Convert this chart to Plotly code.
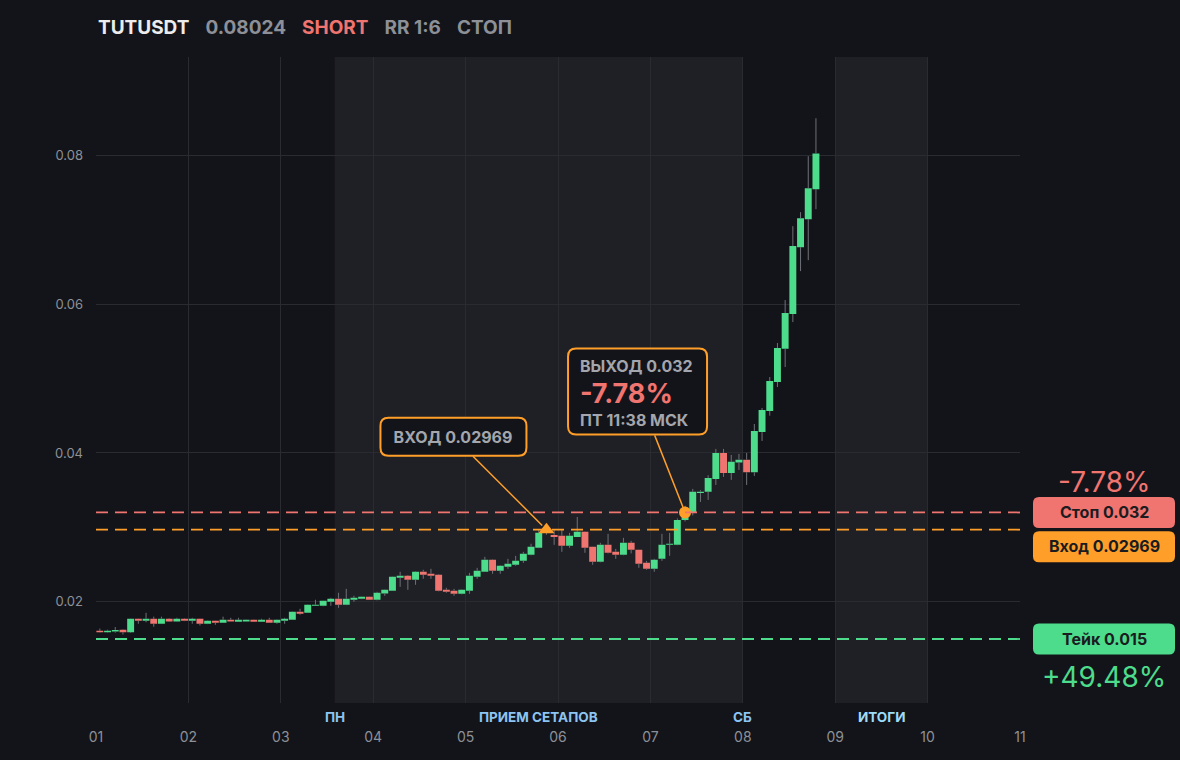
import pandas as pd
import plotly.graph_objects as go

# 2h candles, TUTUSDT, 1-8 March
opens = [0.01610, 0.01590, 0.01600, 0.01624, 0.01590, 0.01772, 0.01745, 0.01772, 0.01705, 0.01772,
         0.01736, 0.01772, 0.01745, 0.01772, 0.01705, 0.01745, 0.01718, 0.01758, 0.01732, 0.01736,
         0.01758, 0.01732, 0.01758, 0.01718, 0.01745, 0.01758, 0.01866, 0.01852, 0.01946, 0.01946,
         0.02000, 0.02040, 0.01960, 0.02027, 0.02040, 0.02067, 0.02027, 0.02112, 0.02148, 0.02322,
         0.02349, 0.02295, 0.02403, 0.02376, 0.02362, 0.02161, 0.02148, 0.02107, 0.02148, 0.02336,
         0.02403, 0.02564, 0.02416, 0.02470, 0.02497, 0.02550, 0.02631, 0.02725, 0.02926, 0.02899,
         0.02886, 0.02752, 0.02872, 0.02940, 0.02738, 0.02537, 0.02765, 0.02671, 0.02631, 0.02792,
         0.02698, 0.02523, 0.02443, 0.02577, 0.02765, 0.02765, 0.03100, 0.03195, 0.03460, 0.03477,
         0.03650, 0.04000, 0.03730, 0.03870, 0.03910, 0.03740, 0.04280, 0.04564, 0.04953, 0.05400,
         0.05866, 0.06765, 0.07141, 0.07544]
highs = [0.01640, 0.01625, 0.01660, 0.01630, 0.01775, 0.01775, 0.01852, 0.01800, 0.01800, 0.01780,
         0.01785, 0.01778, 0.01785, 0.01775, 0.01750, 0.01748, 0.01800, 0.01785, 0.01785, 0.01762,
         0.01762, 0.01772, 0.01785, 0.01762, 0.01785, 0.01870, 0.01906, 0.01965, 0.02027, 0.02015,
         0.02054, 0.02121, 0.02174, 0.02081, 0.02070, 0.02070, 0.02134, 0.02165, 0.02340, 0.02403,
         0.02360, 0.02410, 0.02430, 0.02443, 0.02370, 0.02188, 0.02174, 0.02165, 0.02389, 0.02456,
         0.02604, 0.02570, 0.02490, 0.02577, 0.02617, 0.02671, 0.02780, 0.02966, 0.03000, 0.02966,
         0.02966, 0.02926, 0.03140, 0.02945, 0.02740, 0.02792, 0.02913, 0.02711, 0.02859, 0.02819,
         0.02700, 0.02550, 0.02577, 0.02913, 0.02926, 0.03120, 0.03290, 0.03517, 0.03500, 0.03700,
         0.04054, 0.04054, 0.03973, 0.03987, 0.04000, 0.04389, 0.04604, 0.05020, 0.05477, 0.06054,
         0.07047, 0.07235, 0.07987, 0.08497]
lows = [0.01585, 0.01585, 0.01585, 0.01560, 0.01580, 0.01705, 0.01725, 0.01665, 0.01700, 0.01730,
        0.01730, 0.01740, 0.01705, 0.01682, 0.01700, 0.01691, 0.01715, 0.01735, 0.01730, 0.01733,
        0.01730, 0.01730, 0.01715, 0.01705, 0.01705, 0.01755, 0.01826, 0.01850, 0.01944, 0.01940,
        0.01946, 0.01919, 0.01955, 0.02000, 0.02035, 0.02027, 0.02020, 0.02081, 0.02145, 0.02201,
        0.02161, 0.02228, 0.02309, 0.02309, 0.02140, 0.02121, 0.02081, 0.02100, 0.02107, 0.02309,
        0.02400, 0.02376, 0.02376, 0.02443, 0.02483, 0.02523, 0.02625, 0.02720, 0.02900, 0.02765,
        0.02671, 0.02725, 0.02870, 0.02658, 0.02497, 0.02530, 0.02650, 0.02577, 0.02625, 0.02650,
        0.02456, 0.02430, 0.02403, 0.02550, 0.02617, 0.02760, 0.03080, 0.03160, 0.03342, 0.03369,
        0.03570, 0.03678, 0.03638, 0.03772, 0.03570, 0.03691, 0.04161, 0.04500, 0.04886, 0.05154,
        0.05758, 0.06443, 0.06590, 0.07275]
closes = [0.01590, 0.01612, 0.01622, 0.01590, 0.01772, 0.01745, 0.01772, 0.01705, 0.01772, 0.01736,
          0.01772, 0.01745, 0.01772, 0.01705, 0.01745, 0.01718, 0.01758, 0.01736, 0.01758, 0.01758,
          0.01732, 0.01758, 0.01718, 0.01758, 0.01772, 0.01866, 0.01839, 0.01960, 0.01960, 0.02013,
          0.02040, 0.01960, 0.02040, 0.02054, 0.02067, 0.02027, 0.02121, 0.02161, 0.02336, 0.02349,
          0.02295, 0.02403, 0.02362, 0.02349, 0.02148, 0.02134, 0.02107, 0.02161, 0.02349, 0.02416,
          0.02564, 0.02416, 0.02483, 0.02510, 0.02550, 0.02644, 0.02738, 0.02926, 0.02960, 0.02872,
          0.02752, 0.02886, 0.02940, 0.02725, 0.02537, 0.02765, 0.02658, 0.02631, 0.02792, 0.02698,
          0.02510, 0.02443, 0.02564, 0.02765, 0.02779, 0.03100, 0.03200, 0.03477, 0.03480, 0.03664,
          0.04000, 0.03730, 0.03880, 0.03910, 0.03740, 0.04295, 0.04577, 0.04966, 0.05410, 0.05879,
          0.06779, 0.07154, 0.07557, 0.08024]
times = pd.date_range("2025-03-01 01:00", periods=len(closes), freq="2h")

entry_price = 0.02969
stop_price = 0.032
take_price = 0.015
entry_idx = 58
exit_idx = 76
sections = [("ПН", "2025-03-03 14:00", "#8cc4f2"),
            ("ПРИЕМ СЕТАПОВ", "2025-03-05 19:00", "#8cc4f2"),
            ("СБ", "2025-03-08 00:00", "#8cc4f2"),
            ("ИТОГИ", "2025-03-09 12:00", "#9fdcf7")]
shaded = [("2025-03-03 14:00", "2025-03-08 00:00"), ("2025-03-09 00:00", "2025-03-10 00:00")]

BG = "#131419"
SHADE = "#1f2025"
GRID = "#2a2b31"
GREEN = "#4ddc8c"
RED = "#f07470"
ORANGE = "#ff9f2a"
GREY = "#8d9097"
LABEL = "#a3a6ad"
FONT = "Inter"


def rounded(x0, y0, x1, y1, r):
    return (f"M{x0 + r},{y0} L{x1 - r},{y0} Q{x1},{y0} {x1},{y0 + r} "
            f"L{x1},{y1 - r} Q{x1},{y1} {x1 - r},{y1} L{x0 + r},{y1} "
            f"Q{x0},{y1} {x0},{y1 - r} L{x0},{y0 + r} Q{x0},{y0} {x0 + r},{y0} Z")


# grey wicks drawn only outside the bodies (scatter sits above the candle layer)
wx, wy = [], []
for t, o, h, lo, c in zip(times, opens, highs, lows, closes):
    wx += [t, t, None, t, t, None]
    wy += [lo, min(o, c), None, max(o, c), h, None]

fig = go.Figure()
fig.add_trace(go.Candlestick(
    x=times, open=opens, high=highs, low=lows, close=closes,
    increasing=dict(fillcolor=GREEN, line=dict(color=GREEN, width=0)),
    decreasing=dict(fillcolor=RED, line=dict(color=RED, width=0)),
    showlegend=False))
fig.add_trace(go.Scatter(x=wx, y=wy, mode="lines", line=dict(color="#6f7178", width=1),
                         hoverinfo="skip", showlegend=False))
fig.add_trace(go.Scatter(x=[times[entry_idx]], y=[entry_price], mode="markers",
                         marker=dict(symbol="triangle-up", size=14, color=ORANGE),
                         showlegend=False))
fig.add_trace(go.Scatter(x=[times[exit_idx]], y=[stop_price], mode="markers",
                         marker=dict(symbol="circle", size=12, color=ORANGE),
                         showlegend=False))

shapes = []
for a, b in shaded:
    shapes.append(dict(type="rect", xref="x", yref="paper", x0=a, x1=b, y0=0, y1=1,
                       fillcolor=SHADE, line=dict(width=0), layer="below"))
for val, col in [(stop_price, RED), (entry_price, ORANGE), (take_price, GREEN)]:
    shapes.append(dict(type="line", xref="paper", yref="y", x0=0, x1=1, y0=val, y1=val,
                       line=dict(color=col, width=1.8, dash="12px,7px")))

# callout boxes (pixel offsets from the marked point)
shapes.append(dict(type="path", xref="x", yref="y", xsizemode="pixel", ysizemode="pixel",
                   xanchor=times[entry_idx], yanchor=entry_price,
                   path=rounded(-166, 74, -20, 112, 8),
                   fillcolor=BG, line=dict(color=ORANGE, width=2)))
shapes.append(dict(type="path", xref="x", yref="y", xsizemode="pixel", ysizemode="pixel",
                   xanchor=times[exit_idx], yanchor=stop_price,
                   path=rounded(-117, 78, 22, 164, 8),
                   fillcolor=BG, line=dict(color=ORANGE, width=2)))

# right-hand price tags
for val, y0, y1, col in [(stop_price, -15.5, 15.5, RED), (entry_price, -32.5, -1.5, ORANGE),
                         (take_price, -15.5, 15.5, GREEN)]:
    shapes.append(dict(type="path", xref="paper", yref="y", xsizemode="pixel", ysizemode="pixel",
                       xanchor=1, yanchor=val, path=rounded(13, y0, 155, y1, 6),
                       fillcolor=col, line=dict(width=0)))

annotations = [
    dict(xref="paper", yref="paper", x=0, y=1.0449, xanchor="left", yanchor="middle", showarrow=False,
         text="<b>TUTUSDT</b>&nbsp;&nbsp;&nbsp;<b style='color:%s'>0.08024</b>&nbsp;&nbsp;&nbsp;"
              "<b style='color:%s'>SHORT</b>&nbsp;&nbsp;&nbsp;<b style='color:%s'>RR 1:6</b>"
              "&nbsp;&nbsp;&nbsp;<b style='color:%s'>СТОП</b>" % (GREY, RED, GREY, GREY),
         font=dict(family=FONT, size=19, color="#ececee")),
    dict(x=times[entry_idx], y=entry_price, ax=-93, ay=-93, showarrow=True, arrowhead=0,
         arrowwidth=1.5, arrowcolor=ORANGE, standoff=6, width=140, height=32, borderpad=3,
         text="<b>ВХОД 0.02969</b>", font=dict(family=FONT, size=16, color=LABEL)),
    dict(x=times[exit_idx], y=stop_price, ax=-47.5, ay=-120.6, showarrow=True, arrowhead=0,
         arrowwidth=1.5, arrowcolor=ORANGE, standoff=5, width=133, height=80, borderpad=3,
         text=" ", font=dict(family=FONT, size=16, color=LABEL)),
]
for txt, ys, size, col in [("ВЫХОД 0.032", 146.6, 16, LABEL), ("-7.78%", 118.6, 27, RED),
                           ("ПТ 11:38 МСК", 92.6, 16, LABEL)]:
    annotations.append(dict(x=times[exit_idx], y=stop_price, xshift=-107, yshift=ys,
                            xanchor="left", yanchor="middle", showarrow=False,
                            text="<b>%s</b>" % txt, font=dict(family=FONT, size=size, color=col)))
annotations += [
    dict(xref="paper", yref="y", x=1, y=stop_price, xshift=84, yshift=30, xanchor="center",
         showarrow=False, text="-7.78%", font=dict(family=FONT, size=28, color=RED)),
    dict(xref="paper", yref="y", x=1, y=take_price, xshift=84, yshift=-38, xanchor="center",
         showarrow=False, text="+49.48%", font=dict(family=FONT, size=28, color=GREEN)),
]
for val, ys, label in [(stop_price, 0, "Стоп 0.032"), (entry_price, -16.2, "Вход 0.02969"),
                       (take_price, 0, "Тейк 0.015")]:
    annotations.append(dict(xref="paper", yref="y", x=1, y=val, xshift=84, yshift=ys,
                            xanchor="center", yanchor="middle",
                            showarrow=False, text="<b>%s</b>" % label,
                            font=dict(family=FONT, size=16, color="#1b1c20")))
for label, t, col in sections:
    annotations.append(dict(xref="x", yref="paper", x=t, y=-0.0217, yanchor="middle",
                            showarrow=False, text="<b>%s</b>" % label,
                            font=dict(family=FONT, size=13.5, color=col)))

fig.update_layout(
    width=1180, height=760,
    margin=dict(l=96, r=160, t=57, b=57),
    paper_bgcolor=BG, plot_bgcolor=BG,
    boxgap=0.1, boxgroupgap=0,
    shapes=shapes, annotations=annotations,
    font=dict(family=FONT, color=GREY),
    xaxis=dict(type="date", range=["2025-03-01", "2025-03-11"], tick0="2025-03-01",
               dtick=86400000, tickformat="%d", showgrid=True, gridcolor=GRID, zeroline=False,
               rangeslider=dict(visible=False), ticklabelstandoff=24,
               tickfont=dict(size=14, color=GREY)),
    yaxis=dict(range=[0.0064, 0.0932], tickvals=[0.02, 0.04, 0.06, 0.08], tickformat=".2f",
               showgrid=True, gridcolor=GRID, zeroline=False, ticklabelstandoff=12,
               tickfont=dict(size=13, color=GREY)),
)

fig.write_html("out.html", config={"displayModeBar": False},
               post_script="document.body.style.margin='0';document.body.style.background='%s';" % BG)
